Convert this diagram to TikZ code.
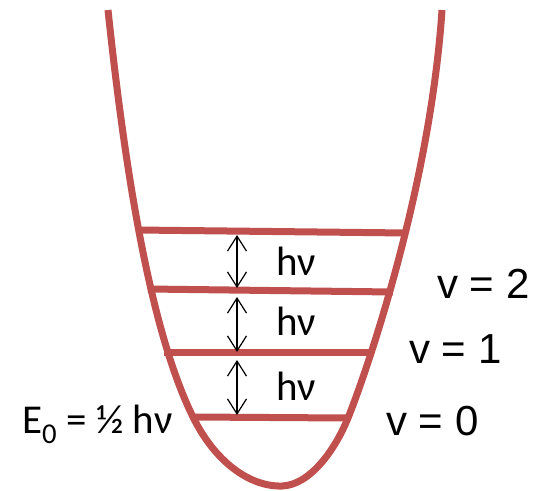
\documentclass[tikz,border=0pt]{standalone}
\usepackage{fontspec}
\setmainfont{Carlito}
\newfontfamily\arialfont{Liberation Sans}
\usetikzlibrary{arrows.meta}
\definecolor{wellred}{HTML}{C0504D}

\begin{document}
\begin{tikzpicture}[x=1pt,y=-1pt,
  well/.style={line width=7pt,wellred},
  gap/.style={line width=1.2pt,{Straight Barb[length=15pt,width=19pt]}-{Straight Barb[length=15pt,width=19pt]}},
  quant/.style={font=\fontsize{41}{44}\selectfont,inner sep=0pt,anchor=base},
  vlab/.style={font=\arialfont\fontsize{42}{44}\selectfont,inner sep=0pt,anchor=base west}]
\useasboundingbox (0,0) rectangle (548,490);
% potential well
\draw[well] (108,10) .. controls (125,170) and (150,330) .. (193,417)
  .. controls (215,462) and (250,487) .. (282,486)
  .. controls (310,485) and (335,450) .. (348,418)
  .. controls (365,376) and (430,190) .. (442,10);
% levels
\coordinate (l0) at (193,417); \coordinate (r0) at (348,418);
\coordinate (l1) at (164,352); \coordinate (r1) at (373,352);
\coordinate (l2) at (148,289); \coordinate (r2) at (393,292);
\coordinate (l3) at (137,230); \coordinate (r3) at (408,233);
\draw[well] (l0)--(r0);
\draw[well] (l1)--(r1);
\draw[well] (l2)--(r2);
\draw[well] (l3)--(r3);
% spacings
\coordinate (a3) at (237,235); \coordinate (b3) at (237,288);
\coordinate (a2) at (237,297); \coordinate (b2) at (237,352);
\coordinate (a1) at (237,360); \coordinate (b1) at (237,415);
\draw[gap] (a3)--(b3);
\draw[gap] (a2)--(b2);
\draw[gap] (a1)--(b1);
\node[quant] (hv3) at (296,275) {hν};
\node[quant] (hv2) at (296,335) {hν};
\node[quant] (hv1) at (296,400) {hν};
\node[quant,anchor=base west] (ezero) at (22,433) {E\textsubscript{0} = ½ hν};
\node[vlab] (v2) at (437,298) {v = 2};
\node[vlab] (v1) at (409,363) {v = 1};
\node[vlab] (v0) at (386,435) {v = 0};
\end{tikzpicture}
\end{document}
